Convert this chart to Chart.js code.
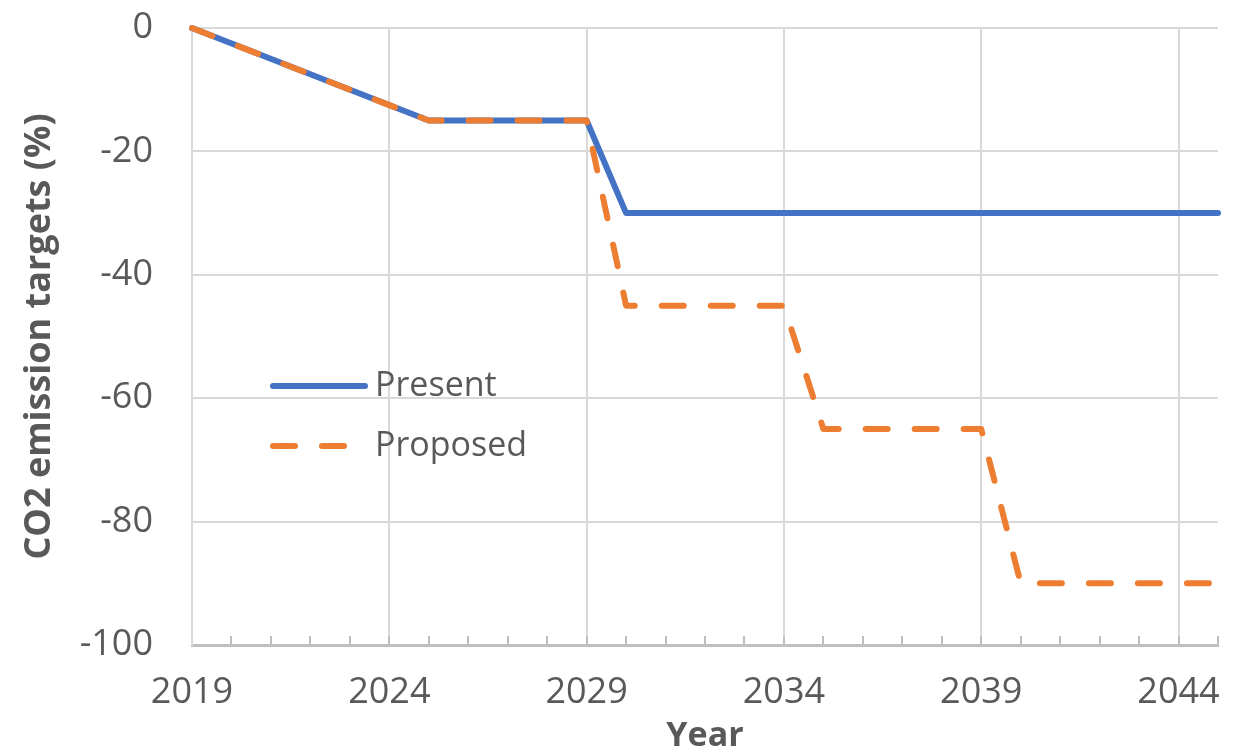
<!DOCTYPE html>
<html>
<head>
<meta charset="utf-8">
<script src="https://cdn.jsdelivr.net/npm/chart.js@4.4.1/dist/chart.umd.min.js"></script>
<style>
  html, body { margin: 0; padding: 0; background: #ffffff; }
  #wrap { width: 1248px; height: 755px; position: relative; }
</style>
</head>
<body>
<div id="wrap"><canvas id="chart"></canvas></div>
<script>
// Emission reduction pathways, % change relative to 2019
const presentYears   = [2019, 2025, 2029, 2030, 2045];
const presentValues  = [0, -15, -15, -30, -30];
const proposedYears  = [2019, 2025, 2029, 2030, 2034, 2035, 2039, 2040, 2045];
const proposedValues = [0, -15, -15, -45, -45, -65, -65, -90, -90];

const seriesNames = ['Present', 'Proposed'];
const xTickLabels = [2019, 2024, 2029, 2034, 2039, 2044];
const yTickLabels = [0, -20, -40, -60, -80, -100];
const xMin = 2019, xMax = 2045;

const BLUE = '#4472C4';
const ORANGE = '#ED7D31';
const TEXT = '#595959';
const GRID = '#D9D9D9';
const AXIS = '#BFBFBF';

const toPoints = (xs, ys) => xs.map((x, i) => ({ x: x, y: ys[i] }));

// Small inward tick marks at every year along the bottom axis
const yearTicks = {
  id: 'yearTicks',
  afterDatasetsDraw(chart) {
    const { ctx, scales: { x, y } } = chart;
    const base = y.getPixelForValue(y.min);
    ctx.save();
    ctx.strokeStyle = AXIS;
    ctx.lineWidth = 2;
    ctx.beginPath();
    for (let yr = xMin + 1; yr <= xMax; yr++) {
      const px = Math.round(x.getPixelForValue(yr));
      ctx.moveTo(px, base);
      ctx.lineTo(px, base - 9);
    }
    ctx.stroke();
    ctx.restore();
  }
};

// Legend drawn inside the plot area, lines followed by names
const innerLegend = {
  id: 'innerLegend',
  afterDraw(chart) {
    const { ctx, chartArea } = chart;
    const x0 = chartArea.left + 81;
    const x1 = chartArea.left + 173;
    const textX = chartArea.left + 183;
    const rows = [chartArea.top + 358, chartArea.top + 418];
    ctx.save();
    chart.data.datasets.forEach((ds, i) => {
      const yy = rows[i];
      ctx.strokeStyle = ds.borderColor;
      ctx.lineWidth = ds.borderWidth;
      ctx.lineCap = 'round';
      ctx.setLineDash(ds.borderDash || []);
      ctx.beginPath();
      ctx.moveTo(x0, yy);
      ctx.lineTo(ds.borderDash ? x0 + 71 : x1, yy);
      ctx.stroke();
      ctx.setLineDash([]);
      ctx.fillStyle = TEXT;
      ctx.font = '34px "Open Sans", sans-serif';
      ctx.textBaseline = 'middle';
      ctx.textAlign = 'left';
      ctx.fillText(ds.label, textX, yy);
    });
    ctx.restore();
  }
};

new Chart(document.getElementById('chart'), {
  type: 'line',
  data: {
    datasets: [
      {
        label: seriesNames[0],
        data: toPoints(presentYears, presentValues),
        borderColor: BLUE,
        backgroundColor: BLUE,
        borderWidth: 6,
        pointRadius: 0,
        borderJoinStyle: 'round',
        borderCapStyle: 'round',
        clip: false,
        order: 2
      },
      {
        label: seriesNames[1],
        data: toPoints(proposedYears, proposedValues),
        borderColor: ORANGE,
        backgroundColor: ORANGE,
        borderWidth: 6,
        borderDash: [22, 27],
        pointRadius: 0,
        borderJoinStyle: 'round',
        borderCapStyle: 'round',
        clip: false,
        order: 1
      }
    ]
  },
  options: {
    responsive: true,
    maintainAspectRatio: false,
    animation: false,
    layout: { padding: { top: 28, right: 30, left: 0, bottom: 0 } },
    plugins: {
      legend: { display: false },
      tooltip: { enabled: false }
    },
    scales: {
      x: {
        type: 'linear',
        min: xMin,
        max: xMax,
        afterBuildTicks(scale) {
          scale.ticks = xTickLabels.map(v => ({ value: v }));
        },
        afterFit(scale) { scale.height = 110; },
        ticks: {
          color: TEXT,
          font: { family: '"Open Sans", sans-serif', size: 36 },
          padding: 26,
          maxRotation: 0,
          autoSkip: false,
          callback: v => String(v)
        },
        grid: { color: GRID, lineWidth: 2, drawTicks: false },
        border: { color: AXIS, width: 3 },
        title: {
          display: true,
          text: 'Year',
          color: TEXT,
          font: { family: '"Open Sans", sans-serif', size: 34, weight: 'bold' },
          padding: { top: 0, bottom: -2 }
        }
      },
      y: {
        min: -100,
        max: 0,
        afterBuildTicks(scale) {
          scale.ticks = yTickLabels.map(v => ({ value: v }));
        },
        afterFit(scale) {
          scale.width = 192;
          scale.paddingTop = 0;
          scale.paddingBottom = 0;
        },
        ticks: {
          color: TEXT,
          font: { family: '"Open Sans", sans-serif', size: 36 },
          padding: 39,
          callback: v => String(v)
        },
        grid: { color: GRID, lineWidth: 2, drawTicks: false },
        border: { color: GRID, width: 2 },
        title: {
          display: true,
          text: 'CO2 emission targets (%)',
          color: TEXT,
          font: { family: '"Open Sans", sans-serif', size: 36, weight: 'bold' },
          padding: { top: 18, bottom: 0 }
        }
      }
    }
  },
  plugins: [yearTicks, innerLegend]
});
</script>
</body>
</html>
